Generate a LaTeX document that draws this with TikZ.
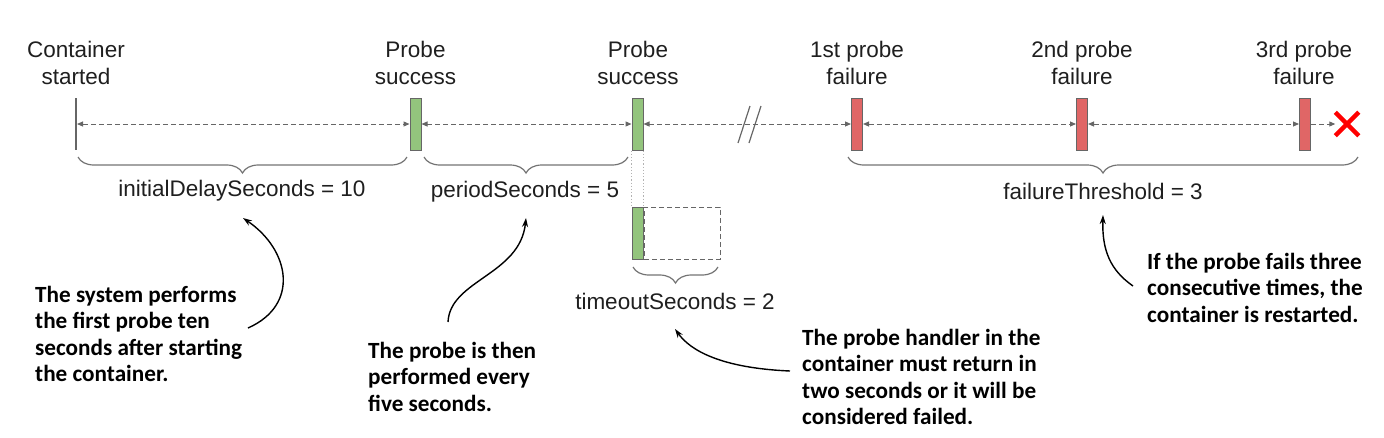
\documentclass[tikz,border=0pt]{standalone}
\usepackage{fontspec}
\setmainfont{Liberation Sans}
\newfontfamily\notefont{Carlito}
\usetikzlibrary{arrows.meta,decorations.pathreplacing,shapes.misc}
\definecolor{okgreen}{HTML}{93C47D}
\definecolor{failred}{HTML}{E06666}
\definecolor{lineg}{HTML}{666666}
\begin{document}
\begin{tikzpicture}[x=1pt,y=-1pt,
  lbl/.style={font=\fontsize{22.5}{27}\selectfont, align=center, inner sep=0pt, text=black!88},
  note/.style={font=\notefont\bfseries\fontsize{23.2}{26.3}\selectfont, align=left, inner sep=0pt, anchor=north west, text=black},
  okbar/.style={draw=lineg, fill=okgreen, line width=1pt, minimum width=11pt, minimum height=52pt, inner sep=0pt},
  failbar/.style={draw=lineg, fill=failred, line width=1pt, minimum width=11pt, minimum height=52pt, inner sep=0pt},
  tl/.style={draw=lineg, dash pattern=on 5pt off 3pt, line width=1pt},
  tlboth/.style={tl, {Triangle[length=6pt,width=5pt]}-{Triangle[length=6pt,width=5pt]}},
  tlend/.style={tl, -{Triangle[length=6pt,width=5pt]}},
  brc/.style={decorate, decoration={brace,mirror,amplitude=16pt}, draw=black!55, line width=1.2pt},
  callout/.style={-{Stealth[length=9pt,width=6pt]}, line width=1.4pt, black}
]
\useasboundingbox (0,0) rectangle (1384,437);

% timeline markers
\coordinate (c0) at (77,124);
\draw[lineg, line width=2pt] (76,98) -- (76,150);
\node[okbar] (s1) at (415.5,124) {};
\node[okbar] (s2) at (637.5,124) {};
\node[failbar] (f1) at (857,124) {};
\node[failbar] (f2) at (1082,124) {};
\node[failbar] (f3) at (1305,124) {};
\node[cross out, draw=red, line width=4.5pt, minimum size=19pt, inner sep=0pt] (xx) at (1347,124) {};

% top labels
\node[lbl] (lc0) at (76,63) {Container\\started};
\node[lbl] (ls1) at (415.5,63) {Probe\\success};
\node[lbl] (ls2) at (638,63) {Probe\\success};
\node[lbl] (lf1) at (857,63) {1st probe\\failure};
\node[lbl] (lf2) at (1082,63) {2nd probe\\failure};
\node[lbl] (lf3) at (1304,63) {3rd probe\\failure};

% timeline connectors
\draw[tlboth] (c0) -- (s1.west);
\draw[tlboth] (s1.east) -- (s2.west);
\draw[tlboth] (s2.east) -- (f1.west);
\draw[tlboth] (f1.east) -- (f2.west);
\draw[tlboth] (f2.east) -- (f3.west);
\draw[tlend] (f3.east) -- (xx.west);

% break marks
\draw[lineg, line width=1.2pt] (738,143) -- (750,106);
\draw[lineg, line width=1.2pt] (749,143) -- (761,106);

% timeout detail
\node[okbar] (t1) at (637.5,233) {};
\node[draw=lineg, dash pattern=on 5pt off 3pt, line width=1pt, minimum width=76pt, minimum height=52pt, inner sep=0pt, anchor=west] (tbox) at (t1.east) {};
\draw[black!30, dotted, line width=1.2pt] (s2.south west) -- (t1.north west);
\draw[black!30, dotted, line width=1.2pt] (s2.south east) -- (t1.north east);

% braces
\draw[brc] (78,157) -- (407,157);
\draw[brc] (424,157) -- (628,157);
\draw[brc] (848,157) -- (1358,157);
\draw[brc] (633,267) -- (718,267);

% brace labels
\node[lbl] (bl1) at (242,191) {initialDelaySeconds = 10};
\node[lbl] (bl2) at (525,192) {periodSeconds = 5};
\node[lbl] (bl3) at (1103,191) {failureThreshold = 3};
\node[lbl] (bl4) at (675,301) {timeoutSeconds = 2};

% notes
\node[note] (n1) at (35,286) {The system performs\\the first probe ten\\seconds after starting\\the container.};
\node[note] (n2) at (368,342) {The probe is then\\performed every\\five seconds.};
\node[note] (n3) at (802,329) {The probe handler in the\\container must return in\\two seconds or it will be\\considered failed.};
\node[note] (n4) at (1147,253) {If the probe fails three\\consecutive times, the\\container is restarted.};

% callout arrows
\coordinate (a1s) at (248,328);
\coordinate (a1e) at (243,218);
\coordinate (a2s) at (448,322);
\coordinate (a2e) at (526,218);
\coordinate (a3s) at (790,371);
\coordinate (a3e) at (675,329);
\coordinate (a4s) at (1133,286);
\coordinate (a4e) at (1103,215);
\draw[callout] (a1s) .. controls (300,305) and (290,250) .. (a1e);
\draw[callout] (a2s) .. controls (450,280) and (520,275) .. (a2e);
\draw[callout] (a3s) .. controls (720,368) and (690,350) .. (a3e);
\draw[callout] (a4s) .. controls (1110,270) and (1102,250) .. (a4e);
\end{tikzpicture}
\end{document}
